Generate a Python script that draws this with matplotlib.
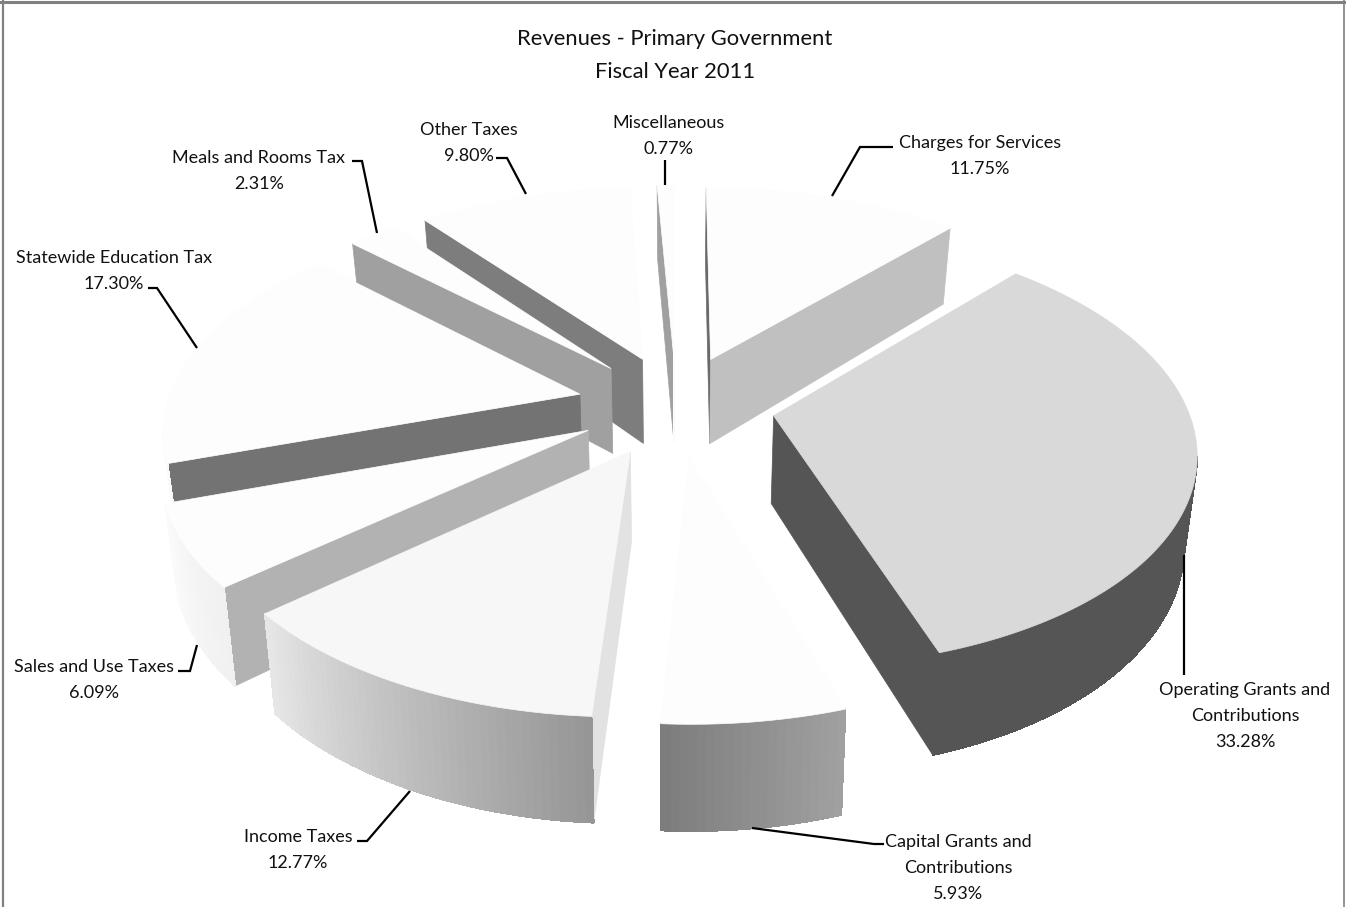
import numpy as np
import matplotlib
matplotlib.use("Agg")
import matplotlib.pyplot as plt
from matplotlib.collections import PolyCollection
from matplotlib.patches import Polygon

# clockwise from 12 o'clock
categories = ["Charges for Services", "Operating Grants and\nContributions", "Capital Grants and\nContributions",
              "Income Taxes", "Sales and Use Taxes", "Statewide Education Tax",
              "Meals and Rooms Tax", "Other Taxes", "Miscellaneous"]
percents = [11.75, 33.28, 5.93, 12.77, 6.09, 17.30, 2.31, 9.80, 0.77]

top_grey = [253, 217, 253, 247, 253, 253, 253, 253, 253]
start_wall_grey = [105, 85, 150, 226, 178, 115, 160, 125, 160]
end_wall_grey = [192, 85, 150, 226, 178, 115, 160, 125, 253]
outer_grey = [(192, 192), (85, 85), (160, 125), (150, 230), (240, 250), (250, 253), (253, 253), (253, 253), (253, 253)]

label_pos = [(980, 156), (1245, 716), (958, 868), (298, 850), (94, 680), (114, 271), (259, 171), (469, 143), (669, 136)]
leaders = [
    [(893, 147), (860, 147), (832, 196)],
    [(1184, 555), (1184, 675)],
    [(752, 828), (874, 844), (884, 844)],
    [(357, 841), (367, 841), (410, 791)],
    [(178, 671), (190, 671), (197, 645)],
    [(148, 288), (157, 288), (197, 348)],
    [(352, 161), (362, 161), (377, 233)],
    [(496, 158), (507, 158), (526, 194)],
    [(665, 160), (665, 185)],
]

# projection of the pie plane to the picture
CX, CY = 676, 405
RX, RY = 413, 210
PERSP = 0.15
EXPLODE = 0.24
HEIGHT = 87
Z_SHRINK = 0.025


def project(x, y, z=0.0):
    s = 1 / (1 + PERSP * y)
    px = RX * x * s * (1 - Z_SHRINK * z)
    py = -RY * y * s + HEIGHT * s * z
    return CX + px, CY + py


def grey(v):
    return (v / 255, v / 255, v / 255)


def draw_slice(ax, i, a0, a1):
    mid = (a0 + a1) / 2
    ex, ey = EXPLODE * np.sin(mid), EXPLODE * np.cos(mid)
    angles = np.linspace(a0, a1, max(3, int(np.degrees(a1 - a0)) + 1))
    xs = ex + np.sin(angles)
    ys = ey + np.cos(angles)

    top = [project(ex, ey)] + [project(x, y) for x, y in zip(xs, ys)]
    apex = top[0]

    # radial walls, only the ones that face the viewer
    for x, y, shade, visible in [
        (xs[0], ys[0], start_wall_grey[i], project(xs[0], ys[0])[0] < apex[0]),
        (xs[-1], ys[-1], end_wall_grey[i], project(xs[-1], ys[-1])[0] > apex[0]),
    ]:
        if visible:
            quad = [apex, project(x, y), project(x, y, 1), project(ex, ey, 1)]
            ax.add_patch(Polygon(quad, closed=True, fc=grey(shade), ec=grey(shade), lw=0.5))

    # outer wall in narrow bands
    quads, shades = [], []
    g0, g1 = outer_grey[i]
    for j in range(len(xs) - 1):
        p0, p1 = project(xs[j], ys[j]), project(xs[j + 1], ys[j + 1])
        if p1[0] >= p0[0]:
            continue
        quads.append([p0, p1, project(xs[j + 1], ys[j + 1], 1), project(xs[j], ys[j], 1)])
        f = j / max(1, len(xs) - 2)
        shades.append(grey(g0 + (g1 - g0) * f))
    if quads:
        ax.add_collection(PolyCollection(quads, facecolors=shades, edgecolors=shades, linewidths=0.5,
                                         antialiaseds=False))

    v = top_grey[i]
    ax.add_patch(Polygon(top, closed=True, fc=grey(v), ec=grey(v), lw=0.5))


fig = plt.figure(figsize=(13.46, 9.07), dpi=100)
ax = fig.add_axes([0, 0, 1, 1])
ax.set_xlim(0, 1346)
ax.set_ylim(907, 0)
ax.axis("off")

edges = np.radians(np.concatenate([[0], np.cumsum(percents)]) * 360 / sum(percents))
mids = (edges[:-1] + edges[1:]) / 2
for i in np.argsort(-np.cos(mids)):
    draw_slice(ax, i, edges[i], edges[i + 1])

plt.rcParams["font.family"] = ["Lato", "DejaVu Sans"]
ax.text(675, 39, "Revenues - Primary Government", ha="center", va="center", fontsize=15.8, color="#111111")
ax.text(675, 72, "Fiscal Year 2011", ha="center", va="center", fontsize=15.8, color="#111111")

for name, pct, pos, line in zip(categories, percents, label_pos, leaders):
    ax.text(pos[0], pos[1], f"{name}\n{pct:.2f}%", ha="center", va="center", fontsize=13,
            linespacing=1.78, color="#111111")
    ax.plot(*zip(*line), color="black", lw=1.6, solid_capstyle="butt", solid_joinstyle="miter")

# chart frame, the bottom edge is cut off
frame = "#808080"
ax.plot([0, 1346], [2, 2], color=frame, lw=2.2)
ax.plot([2.5, 2.5], [0, 907], color=frame, lw=1.6)
ax.plot([1344, 1344], [0, 907], color=frame, lw=1.2)

fig.savefig("out.png", dpi=100)
plt.close(fig)
